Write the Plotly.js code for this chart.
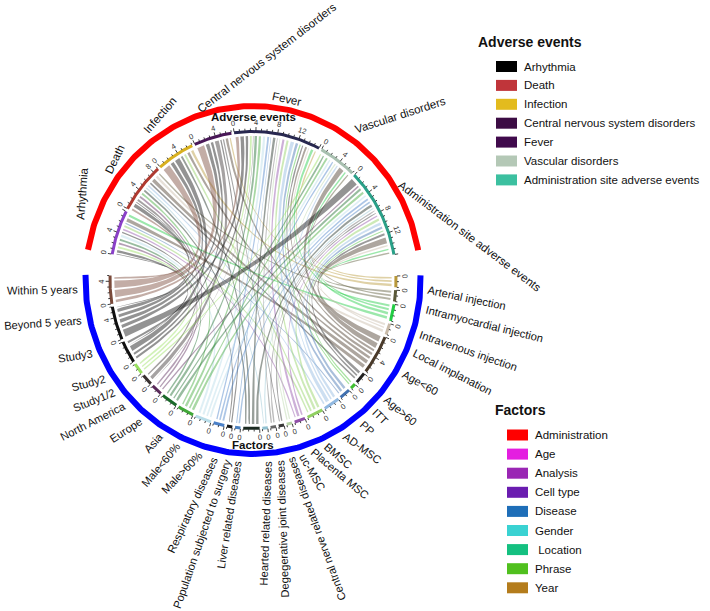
<!DOCTYPE html>
<html>
<head>
<meta charset="utf-8">
<script src="https://cdn.plot.ly/plotly-3.0.1.min.js"></script>
<style>html,body{margin:0;padding:0;background:#fff}</style>
</head>
<body>
<div id="chart" style="width:710px;height:611px"></div>
<script>
// Adverse events, top half, clockwise from the left
const events = ['Arhythmia', 'Death', 'Infection', 'Central nervous system disorders', 'Fever', 'Vascular disorders', 'Administration site adverse events'];
const eventKeys = ['ARR', 'DTH', 'INF', 'CNS', 'FEV', 'VAS', 'ADM'];
const eventColors = ['#8a40c8', '#b03a30', '#d8b020', '#4a1858', '#282850', '#a8c0b0', '#2aa088'];

// Factors, bottom half, clockwise from the right
const factors = ['Arterial injection', 'Intramyocardial injection', 'Intravenous injection', 'Local implanation',
  'Age<60', 'Age>60', 'ITT', 'PP', 'AD-MSC', 'BMSC', 'Placenta MSC', 'uc-MSC',
  'Central nerve related diseases', 'Degegerative joint diseases', 'Hearted related diseases', 'Liver related diseases',
  'Population subjected to surgery', 'Respiratory diseases', 'Male>60%', 'Male<60%',
  'Asia', 'Europe', 'North America', 'Study1/2', 'Study2', 'Study3', 'Beyond 5 years', 'Within 5 years'];
const factorColors = ['#b8983a', '#5a5838', '#22cc44', '#c8baa8',
  '#4a3a2a', '#222222', '#40c030', '#4070b0', '#90b8e0', '#90d060', '#9050a8', '#b8d4a8',
  '#383838', '#686868', '#90c0d0', '#1a2a20',
  '#4a80c0', '#181818', '#4a80c8', '#b8dce8',
  '#40a838', '#1a6a2a', '#5a2a5a', '#383030', '#98e060', '#101010', '#101010', '#7a4a3a'];

// Links: factor -> adverse event, with value
const linkFactor = [
  'Arterial injection', 'Arterial injection', 'Arterial injection',
  'Intramyocardial injection', 'Intramyocardial injection', 'Intramyocardial injection',
  'Intravenous injection', 'Intravenous injection', 'Intravenous injection', 'Intravenous injection',
  'Local implanation', 'Local implanation', 'Local implanation',
  'Age<60', 'Age<60', 'Age<60', 'Age<60', 'Age<60', 'Age<60', 'Age<60',
  'Age>60', 'Age>60', 'Age>60',
  'ITT', 'ITT',
  'PP', 'PP', 'PP',
  'AD-MSC', 'AD-MSC', 'AD-MSC', 'AD-MSC',
  'BMSC', 'BMSC', 'BMSC', 'BMSC',
  'Placenta MSC', 'Placenta MSC', 'Placenta MSC',
  'uc-MSC', 'uc-MSC',
  'Central nerve related diseases', 'Central nerve related diseases',
  'Degegerative joint diseases', 'Degegerative joint diseases',
  'Hearted related diseases', 'Hearted related diseases',
  'Liver related diseases', 'Liver related diseases', 'Liver related diseases', 'Liver related diseases',
  'Population subjected to surgery', 'Population subjected to surgery',
  'Respiratory diseases', 'Respiratory diseases',
  'Male>60%', 'Male>60%', 'Male>60%',
  'Male<60%', 'Male<60%', 'Male<60%', 'Male<60%',
  'Asia', 'Asia', 'Asia', 'Asia',
  'Europe', 'Europe', 'Europe', 'Europe',
  'North America', 'North America', 'North America',
  'Study1/2', 'Study1/2', 'Study1/2',
  'Study2', 'Study2', 'Study2',
  'Study3', 'Study3', 'Study3', 'Study3', 'Study3',
  'Beyond 5 years', 'Beyond 5 years', 'Beyond 5 years', 'Beyond 5 years', 'Beyond 5 years', 'Beyond 5 years',
  'Within 5 years', 'Within 5 years', 'Within 5 years', 'Within 5 years'
];
const linkEvent = [
  'INF', 'CNS', 'FEV',
  'DTH', 'ADM', 'VAS',
  'ARR', 'FEV', 'ADM', 'VAS',
  'ADM', 'FEV', 'DTH',
  'ARR', 'DTH', 'INF', 'CNS', 'FEV', 'VAS', 'ADM',
  'ADM', 'FEV', 'DTH',
  'FEV', 'ADM',
  'FEV', 'ADM', 'ARR',
  'FEV', 'ADM', 'VAS', 'DTH',
  'FEV', 'ADM', 'ARR', 'INF',
  'FEV', 'ADM', 'ARR',
  'FEV', 'VAS',
  'ADM', 'CNS',
  'FEV', 'ADM',
  'DTH', 'ADM',
  'FEV', 'ADM', 'DTH', 'INF',
  'ADM', 'FEV',
  'ARR', 'CNS',
  'FEV', 'ADM', 'VAS',
  'ARR', 'FEV', 'ADM', 'VAS',
  'FEV', 'ADM', 'VAS', 'DTH',
  'FEV', 'ADM', 'VAS', 'ARR',
  'ARR', 'DTH', 'ADM',
  'DTH', 'CNS', 'FEV',
  'ARR', 'FEV', 'VAS',
  'ARR', 'DTH', 'INF', 'CNS', 'FEV',
  'ARR', 'DTH', 'INF', 'CNS', 'FEV', 'ADM',
  'DTH', 'INF', 'CNS', 'FEV'
];
const linkValue = [
  0.8, 0.6, 0.6,
  0.7, 0.7, 0.6,
  0.8, 0.8, 0.7, 0.7,
  0.7, 0.5, 0.8,
  1.0, 1.0, 0.8, 0.8, 0.7, 1.3, 1.4,
  0.8, 0.6, 0.6,
  0.5, 0.5,
  0.8, 0.8, 0.4,
  1.0, 0.8, 0.6, 0.6,
  0.8, 0.8, 0.7, 0.7,
  0.8, 0.6, 0.6,
  0.5, 0.5,
  0.5, 0.5,
  0.5, 0.5,
  0.5, 0.5,
  0.8, 0.8, 0.7, 0.7,
  0.6, 0.4,
  0.5, 0.5,
  0.7, 0.7, 0.6,
  0.8, 0.8, 0.7, 0.7,
  0.8, 0.8, 0.7, 0.7,
  0.8, 0.8, 0.7, 0.7,
  0.7, 0.7, 0.6,
  0.7, 1.1, 0.2,
  0.7, 0.7, 0.6,
  0.8, 0.3, 1.3, 0.8, 0.8,
  0.3, 1.0, 1.0, 1.0, 1.0, 1.7,
  0.7, 1.7, 1.7, 0.9
];

// Legends
const aeLegendNames = ['Arhythmia', 'Death', 'Infection', 'Central nervous system disorders', 'Fever', 'Vascular disorders', 'Administration site adverse events'];
const aeLegendColors = ['#000000', '#c0353a', '#e3bb1e', '#3c0c44', '#400a4c', '#b4c8b6', '#3cc0a0'];
const factorLegendNames = ['Administration', 'Age', 'Analysis', 'Cell type', 'Disease', 'Gender', '\u00a0Location', 'Phrase', 'Year'];
const factorLegendColors = ['#ff0000', '#e41ee0', '#9a26b4', '#6a1cb0', '#1e6eb8', '#3ad2d2', '#14c080', '#50c01e', '#b47c1c'];

// label placement for adverse-event names: rotation, shift along the circle, radius of the near end
const aeLabelRot = [-86, -64, -49, -37.6, 12, -18, 37];
const aeLabelShift = [0, 3, 4, 2, -1, 1, 5];
const aeLabelR = [189, 185, 186, 179, 184, 184, 180];
const aeLabelAnchor = ['start', 'start', 'start', 'start', 'middle', 'start', 'start'];

// label placement for factor names: angle of the near end, text rotation
const factorLabelAt = [-3.1, -9.4, -17.4, -23.4, -30.8, -40.6, -45.9, -51.6, -58.7, -65.3, -70, -73.8,
  -77.6, -81.2, -85, -95, -98.3, -102.7, -107.7, -115.5, -121.9, -129.6, -136.8, -142, -147.3, -156.3, -167.3, -176.9];
const factorLabelRot = [12, 14, 19, 27, 29, 40, 45, 42, 36, 41, 40, 60,
  -110, -92, -88, -81, -71, -65, -46, -50, -48, -33, -27, -22, -15, -9, -4, -1];

// geometry
const CX = 253, CY = 280, SX = 0.963;
const BIG_GAP = 8.3, GAP = 1.1, START = 170;
const R_GROUP = 174, R_AXIS = 148.5, R_LINK = 144, R_TICKLAB = 157.5, R_LAB = 182;
const FONT = 'Liberation Sans, Arial, sans-serif';

const ctx = document.createElement('canvas').getContext('2d');
function textWidth(s, size, bold) {
  ctx.font = (bold ? 'bold ' : '') + size + 'px "Liberation Sans", Arial, sans-serif';
  return ctx.measureText(s).width;
}

function polar(deg, r) {
  const a = deg * Math.PI / 180;
  return [CX + SX * r * Math.cos(a), CY - r * Math.sin(a)];
}
function arc(d1, d2, r, n) {
  const pts = [];
  for (let i = 0; i <= n; i++) pts.push(polar(d1 + (d2 - d1) * i / n, r));
  return pts;
}
function bezier(p0, p2, n) {
  const pts = [];
  for (let i = 0; i <= n; i++) {
    const t = i / n, u = 1 - t;
    pts.push([u * u * p0[0] + 2 * u * t * CX + t * t * p2[0], u * u * p0[1] + 2 * u * t * CY + t * t * p2[1]]);
  }
  return pts;
}
function rgba(hex, a) {
  const v = parseInt(hex.slice(1), 16);
  return `rgba(${(v >> 16) & 255},${(v >> 8) & 255},${v & 255},${a})`;
}

// links as objects
let links = linkValue.map((v, i) => ({
  f: factors.indexOf(linkFactor[i]),
  e: eventKeys.indexOf(linkEvent[i]),
  v: v
}));

// sector sizes from the links
const eventSize = events.map((_, j) => links.filter(l => l.e === j).reduce((s, l) => s + l.v, 0));
const factorSize = factors.map((_, j) => links.filter(l => l.f === j).reduce((s, l) => s + l.v, 0));
const total = eventSize.reduce((a, b) => a + b, 0);
const nAll = events.length + factors.length;
const UNIT = (360 - 2 * BIG_GAP - (nAll - 2) * GAP) / (2 * total);

// lay out sectors clockwise
let cursor = START;
const eventSec = events.map((name, j) => {
  const s = { name, size: eventSize[j], color: eventColors[j], start: cursor };
  s.end = cursor - s.size * UNIT;
  cursor = s.end - GAP;
  return s;
});
cursor = eventSec[eventSec.length - 1].end - BIG_GAP;
const factorSec = factors.map((name, j) => {
  const s = { name, size: factorSize[j], color: factorColors[j], start: cursor };
  s.end = cursor - s.size * UNIT;
  cursor = s.end - GAP;
  return s;
});

// place links inside sectors
factorSec.forEach((s, j) => {
  let c = s.start;
  links.filter(l => l.f === j).sort((a, b) => b.e - a.e).forEach(l => {
    l.f1 = c; l.f2 = c - l.v * UNIT; c = l.f2;
  });
});
eventSec.forEach((s, j) => {
  let c = s.start;
  links.filter(l => l.e === j).sort((a, b) => b.f - a.f).forEach(l => {
    l.a1 = c; l.a2 = c - l.v * UNIT; c = l.a2;
  });
});

const traces = [];

// ribbons
links.forEach(l => {
  const ins = Math.min(0.17 * UNIT, l.v * UNIT * 0.25);
  const f1 = l.f1 - ins, f2 = l.f2 + ins, a1 = l.a1 - ins, a2 = l.a2 + ins;
  const pts = [].concat(
    bezier(polar(f1, R_LINK), polar(a2, R_LINK), 50),
    arc(a2, a1, R_LINK, 6),
    bezier(polar(a1, R_LINK), polar(f2, R_LINK), 50),
    arc(f2, f1, R_LINK, 6)
  );
  traces.push({
    x: pts.map(p => p[0]), y: pts.map(p => p[1]),
    type: 'scatter', mode: 'lines', fill: 'toself',
    fillcolor: rgba(factorColors[l.f], 0.45),
    line: { width: 0, color: 'rgba(0,0,0,0)' },
    hoverinfo: 'skip'
  });
});

// group arcs
const groups = [
  { from: eventSec[0].start, to: eventSec[eventSec.length - 1].end, color: '#ff0000' },
  { from: factorSec[0].start, to: factorSec[factorSec.length - 1].end, color: '#0000ff' }
];
groups.forEach(g => {
  const pts = arc(g.from, g.to, R_GROUP, 200);
  traces.push({
    x: pts.map(p => p[0]), y: pts.map(p => p[1]),
    type: 'scatter', mode: 'lines', line: { color: g.color, width: 6 }, hoverinfo: 'skip'
  });
});

// sector axis arcs, ticks and tick labels
const annotations = [];
const tx = [], ty = [];
const allSec = eventSec.concat(factorSec);
allSec.forEach(s => {
  const pts = arc(s.start, s.end, R_AXIS, 40);
  traces.push({
    x: pts.map(p => p[0]), y: pts.map(p => p[1]),
    type: 'scatter', mode: 'lines', line: { color: s.color, width: 3 }, hoverinfo: 'skip'
  });
  for (let v = 0; v <= s.size + 1e-6; v += 1) {
    const major = v % 4 === 0;
    const d = s.start - v * UNIT;
    const p0 = polar(d, R_AXIS + 1), p1 = polar(d, R_AXIS + (major ? 4.5 : 3));
    tx.push(p0[0], p1[0], null); ty.push(p0[1], p1[1], null);
    if (major && v < s.size - 0.5) {
      const pl = polar(d, R_TICKLAB);
      annotations.push({
        x: pl[0], y: pl[1], xref: 'x', yref: 'y', text: String(v), showarrow: false,
        xanchor: 'center', yanchor: 'middle', textangle: 90 - d,
        font: { family: FONT, size: 7.5, color: '#333333' }
      });
    }
  }
});
traces.push({ x: tx, y: ty, type: 'scatter', mode: 'lines', line: { color: '#111111', width: 0.8 }, hoverinfo: 'skip' });

// sector names: adverse events
const LSIZE = 11.5;
eventSec.forEach((s, j) => {
  const mid = (s.start + s.end) / 2 + aeLabelShift[j];
  const p = polar(mid, aeLabelR[j]);
  const rot = aeLabelRot[j] * Math.PI / 180;
  const half = aeLabelAnchor[j] === 'start' ? textWidth(s.name, LSIZE) / 2 : 0;
  annotations.push({
    x: p[0] + half * Math.cos(rot), y: p[1] + half * Math.sin(rot), xref: 'x', yref: 'y',
    text: s.name, showarrow: false, xanchor: 'center', yanchor: 'middle', textangle: aeLabelRot[j],
    font: { family: FONT, size: LSIZE, color: '#111111' }
  });
});

// sector names: factors; right side reads outward, the rest reads toward the circle
const FSIZE = 11.2;
factorSec.forEach((s, j) => {
  const p = polar(factorLabelAt[j], R_LAB);
  const rotDeg = factorLabelRot[j];
  const rot = rotDeg * Math.PI / 180;
  const half = textWidth(s.name, FSIZE) / 2;
  const sign = j <= 11 ? 1 : -1;
  annotations.push({
    x: p[0] + sign * half * Math.cos(rot), y: p[1] + sign * half * Math.sin(rot), xref: 'x', yref: 'y',
    text: s.name, showarrow: false, xanchor: 'center', yanchor: 'middle', textangle: rotDeg,
    font: { family: FONT, size: FSIZE, color: '#111111' }
  });
});

// group names
[['Adverse events', groups[0], 163], ['Factors', groups[1], 165]].forEach(([t, g, r]) => {
  const p = polar((g.from + g.to) / 2, r);
  annotations.push({
    x: p[0], y: p[1], xref: 'x', yref: 'y', text: '<b>' + t + '</b>', showarrow: false,
    xanchor: 'center', yanchor: 'middle', font: { family: FONT, size: 11.5, color: '#111111' }
  });
});

// legends
const shapes = [];
function legend(title, names, colors, tX, tY, boxX, rowY, step) {
  annotations.push({
    x: tX, y: tY, xref: 'x', yref: 'y', text: '<b>' + title + '</b>', showarrow: false,
    xanchor: 'left', yanchor: 'middle', font: { family: FONT, size: 14, color: '#111111' }
  });
  names.forEach((n, i) => {
    const y = rowY + i * step;
    shapes.push({
      type: 'rect', xref: 'x', yref: 'y', x0: boxX, x1: boxX + 21, y0: y - 5.5, y1: y + 5.5,
      fillcolor: colors[i], line: { width: 0 }
    });
    annotations.push({
      x: boxX + 26, y: y, xref: 'x', yref: 'y', text: n, showarrow: false,
      xanchor: 'left', yanchor: 'middle', font: { family: FONT, size: 11.5, color: '#111111' }
    });
  });
}
legend('Adverse events', aeLegendNames, aeLegendColors, 476, 42, 496, 66.5, 18.9);
legend('Factors', factorLegendNames, factorLegendColors, 493, 410, 507, 435, 19.1);

const layout = {
  width: 710, height: 611,
  margin: { l: 0, r: 0, t: 0, b: 0 },
  paper_bgcolor: '#ffffff', plot_bgcolor: '#ffffff',
  showlegend: false,
  xaxis: { range: [0, 710], visible: false, fixedrange: true },
  yaxis: { range: [611, 0], visible: false, fixedrange: true },
  annotations: annotations,
  shapes: shapes
};

Plotly.newPlot('chart', traces, layout, { staticPlot: true });
</script>
</body>
</html>
